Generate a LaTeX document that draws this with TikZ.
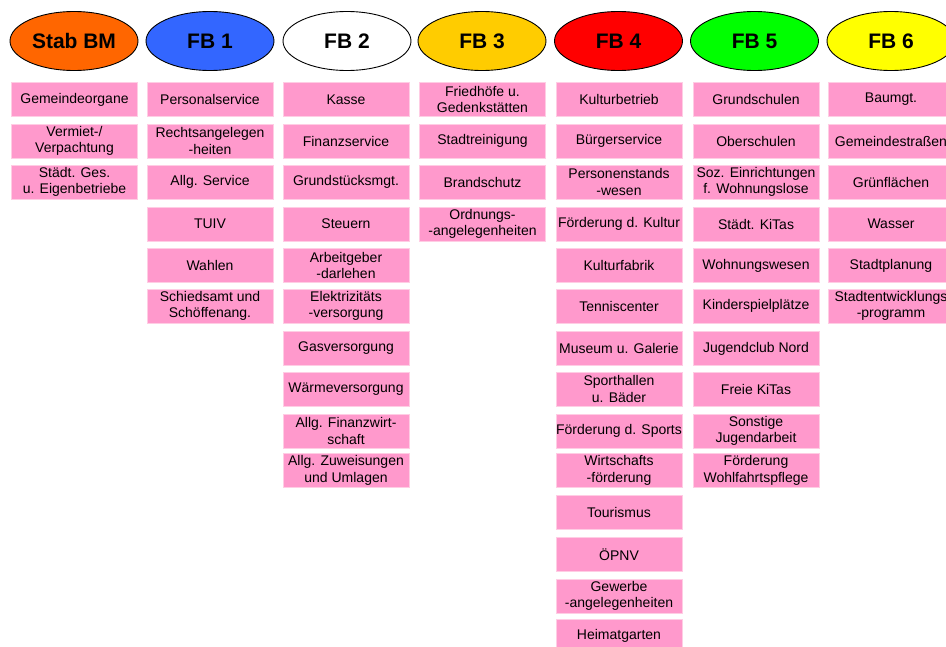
\documentclass[tikz,border=0pt]{standalone}
\usepackage{fontspec}
\setmainfont{Liberation Sans}
\usetikzlibrary{shapes.geometric}

\definecolor{unitpink}{RGB}{255,153,204}
\definecolor{unitedge}{RGB}{255,205,228}
\definecolor{stabcol}{RGB}{255,102,0}
\definecolor{fbblue}{RGB}{51,102,255}
\definecolor{fbgold}{RGB}{255,204,0}
\definecolor{fbred}{RGB}{255,0,0}
\definecolor{fbgreen}{RGB}{0,255,0}
\definecolor{fbyellow}{RGB}{255,255,0}

\tikzset{
  dept/.style={ellipse, draw=black, line width=0.9pt, minimum width=128pt,
    minimum height=59pt, inner sep=0pt,
    font=\fontsize{21}{24}\selectfont\bfseries},
  unit/.style={rectangle, fill=unitpink, draw=unitedge, line width=0.8pt,
    minimum width=126pt, minimum height=34pt, inner sep=0pt, align=center,
    font=\fontsize{14}{16.6}\selectfont},
}

\begin{document}
\begin{tikzpicture}[x=1pt, y=-1pt]
\useasboundingbox (0,0) rectangle (946,646);
\fill[white] (0,0) rectangle (946,646);

% department headers
\node[dept, fill=stabcol]  (stab) at (74,41)    {Stab BM};
\node[dept, fill=fbblue]   (fb1)  at (210,41)   {FB 1};
\node[dept, fill=white]    (fb2)  at (347,41)   {FB 2};
\node[dept, fill=fbgold]   (fb3)  at (482,41)   {FB 3};
\node[dept, fill=fbred]    (fb4)  at (618.5,41) {FB 4};
\node[dept, fill=fbgreen]  (fb5)  at (754.5,41) {FB 5};
\node[dept, fill=fbyellow] (fb6)  at (891,41)   {FB 6};

% Stab BM
\node[unit] (s1) at (74.5,99.5) {Gemeindeorgane};
\node[unit] (s2) at (74.5,141)  {Vermiet-/\\Verpachtung};
\node[unit] (s3) at (74.5,182)  {Städt. Ges.\\u. Eigenbetriebe};

% FB 1
\node[unit] (a1) at (210,99.5)  {Personalservice};
\node[unit] (a2) at (210,141)   {Rechtsangelegen\\-heiten};
\node[unit] (a3) at (210,182)   {Allg. Service};
\node[unit] (a4) at (210,224)   {TUIV};
\node[unit] (a5) at (210,265.5) {Wahlen};
\node[unit] (a6) at (210,306)   {Schiedsamt und\\Schöffenang.};

% FB 2
\node[unit] (b1)  at (346,99.5)  {Kasse};
\node[unit] (b2)  at (346,141)   {Finanzservice};
\node[unit] (b3)  at (346,182)   {Grundstücksmgt.};
\node[unit] (b4)  at (346,224)   {Steuern};
\node[unit] (b5)  at (346,265.5) {Arbeitgeber\\-darlehen};
\node[unit] (b6)  at (346,306)   {Elektrizitäts\\-versorgung};
\node[unit] (b7)  at (346,348.5) {Gasversorgung};
\node[unit] (b8)  at (346,389)   {Wärmeversorgung};
\node[unit] (b9)  at (346,431)   {Allg. Finanzwirt-\\schaft};
\node[unit] (b10) at (346,470.5) {Allg. Zuweisungen\\und Umlagen};

% FB 3
\node[unit] (c1) at (482.5,99.5) {Friedhöfe u.\\Gedenkstätten};
\node[unit] (c2) at (482.5,141)  {Stadtreinigung};
\node[unit] (c3) at (482.5,182)  {Brandschutz};
\node[unit] (c4) at (482.5,224)  {Ordnungs-\\-angelegenheiten};

% FB 4
\node[unit] (d1)  at (619,99.5)  {Kulturbetrieb};
\node[unit] (d2)  at (619,141)   {Bürgerservice};
\node[unit] (d3)  at (619,182)   {Personenstands\\-wesen};
\node[unit] (d4)  at (619,224)   {Förderung d. Kultur};
\node[unit] (d5)  at (619,265.5) {Kulturfabrik};
\node[unit] (d6)  at (619,306)   {Tenniscenter};
\node[unit] (d7)  at (619,348.5) {Museum u. Galerie};
\node[unit] (d8)  at (619,389)   {Sporthallen\\u. Bäder};
\node[unit] (d9)  at (619,431)   {Förderung d. Sports};
\node[unit] (d10) at (619,470.5) {Wirtschafts\\-förderung};
\node[unit] (d11) at (619,512.5) {Tourismus};
\node[unit] (d12) at (619,554.5) {ÖPNV};
\node[unit] (d13) at (619,596)   {Gewerbe\\-angelegenheiten};
\node[unit] (d14) at (619,636)   {Heimatgarten};

% FB 5
\node[unit] (e1)  at (756,99.5)  {Grundschulen};
\node[unit] (e2)  at (756,141)   {Oberschulen};
\node[unit] (e3)  at (756,182)   {Soz. Einrichtungen\\f. Wohnungslose};
\node[unit] (e4)  at (756,224)   {Städt. KiTas};
\node[unit] (e5)  at (756,265.5) {Wohnungswesen};
\node[unit] (e6)  at (756,306)   {Kinderspielplätze};
\node[unit] (e7)  at (756,348.5) {Jugendclub Nord};
\node[unit] (e8)  at (756,389)   {Freie KiTas};
\node[unit] (e9)  at (756,431)   {Sonstige\\Jugendarbeit};
\node[unit] (e10) at (756,470.5) {Förderung\\Wohlfahrtspflege};

% FB 6
\node[unit] (f1) at (891,99.5)  {Baumgt.};
\node[unit] (f2) at (891,141)   {Gemeindestraßen};
\node[unit] (f3) at (891,182)   {Grünflächen};
\node[unit] (f4) at (891,224)   {Wasser};
\node[unit] (f5) at (891,265.5) {Stadtplanung};
\node[unit] (f6) at (891,306)   {Stadtentwicklungs\\-programm};
\end{tikzpicture}
\end{document}
